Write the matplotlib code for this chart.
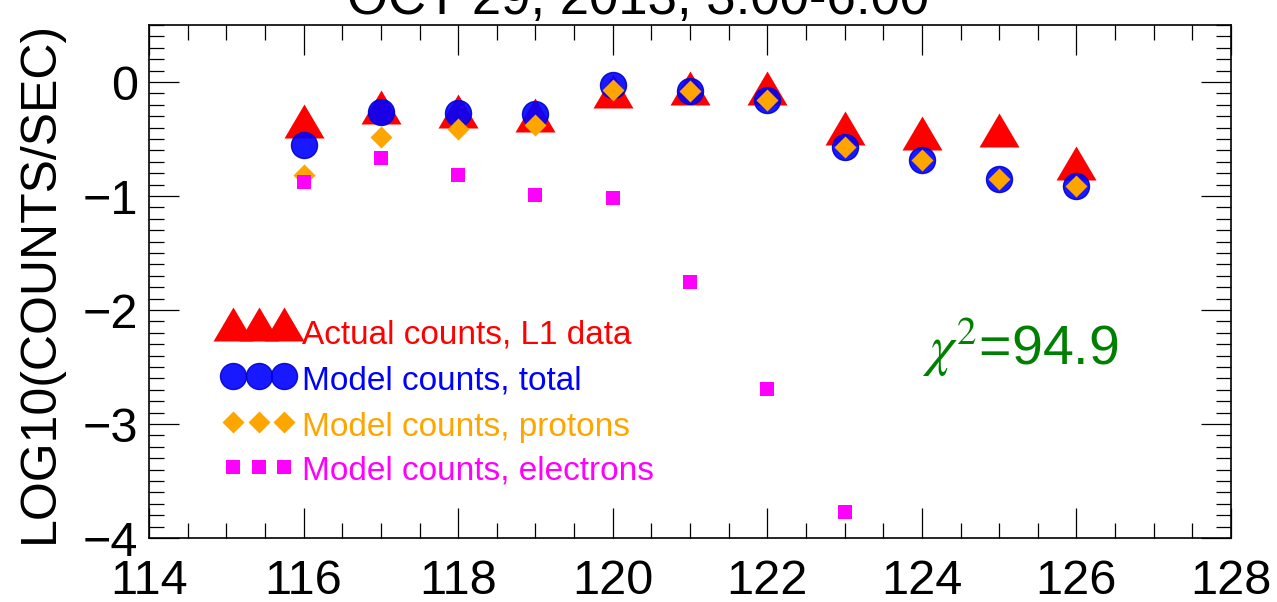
import numpy as np
import matplotlib
matplotlib.use("Agg")
import matplotlib.pyplot as plt
from matplotlib.path import Path
from matplotlib.ticker import MultipleLocator

plt.rcParams['font.family'] = ['Liberation Sans', 'DejaVu Sans']
plt.rcParams['mathtext.fontset'] = 'stix'

# Channel numbers and log10 count rates
channels = [116, 117, 118, 119, 120, 121, 122, 123, 124, 125, 126]
actual_l1 = [-0.34, -0.22, -0.25, -0.29, -0.08, -0.05, -0.05, -0.40, -0.45, -0.42, -0.71]
model_total = [-0.55, -0.26, -0.27, -0.28, -0.03, -0.08, -0.16, -0.57, -0.68, -0.85, -0.91]
model_protons = [-0.82, -0.48, -0.41, -0.38, -0.07, -0.08, -0.16, -0.57, -0.68, -0.85, -0.91]
electron_channels = [116, 117, 118, 119, 120, 121, 122, 123]
model_electrons = [-0.88, -0.67, -0.82, -0.99, -1.02, -1.75, -2.69, -3.77]

title = "OCT 29, 2013, 3:00-6:00"
chi_sq = 94.9
legend_labels = ["Actual counts, L1 data", "Model counts, total",
                 "Model counts, protons", "Model counts, electrons"]

RED, BLUE, ORANGE, MAGENTA, GREEN = "#ff0000", "#0000ff", "#ffa500", "#ff00ff", "#008000"

# Flattened triangle and diamond markers
tri = Path([(-1, -0.85), (1, -0.85), (0, 0.85), (-1, -0.85)],
           [Path.MOVETO, Path.LINETO, Path.LINETO, Path.CLOSEPOLY])
dia = Path([(0, 1), (1, 0), (0, -1), (-1, 0), (0, 1)],
           [Path.MOVETO, Path.LINETO, Path.LINETO, Path.LINETO, Path.CLOSEPOLY])

px = 72 / 100.0  # points per pixel at dpi 100
styles = [
    dict(marker=tri, markersize=40 * px, color=RED, mec=RED, mew=0),
    dict(marker='o', markersize=26 * px, color=BLUE, mec="#0000cc", mew=1.0, alpha=0.9),
    dict(marker=dia, markersize=22 * px, color=ORANGE, mec=ORANGE, mew=0),
    dict(marker='s', markersize=14 * px, color=MAGENTA, mec=MAGENTA, mew=0),
]
colors = [RED, BLUE, ORANGE, MAGENTA]

fig = plt.figure(figsize=(12.77, 6.02), dpi=100)
ax = fig.add_axes([149 / 1277, 1 - 538 / 602, 1082 / 1277, 513 / 602])

series = [(channels, actual_l1), (channels, model_total),
          (channels, model_protons), (electron_channels, model_electrons)]
for (xs, ys), st in zip(series, styles):
    ax.plot(xs, ys, linestyle='none', **st)

ax.set_xlim(114, 128)
ax.set_ylim(-4, 0.5)
ax.xaxis.set_major_locator(MultipleLocator(2))
ax.xaxis.set_minor_locator(MultipleLocator(0.5))
ax.yaxis.set_major_locator(MultipleLocator(1))
ax.yaxis.set_minor_locator(MultipleLocator(0.1))
ax.tick_params(which='both', direction='in', top=True, right=True, width=0.9, color='black')
ax.tick_params(which='major', length=30 * px, labelsize=35)
ax.tick_params(which='minor', length=15 * px)
ax.tick_params(axis='x', which='major', pad=15)
ax.tick_params(axis='y', which='major', pad=8)
ax.set_yticks([0, -1, -2, -3, -4])
ax.set_yticklabels(["0", "\u22121", "\u22122", "\u22123", "\u22124"])
for s in ax.spines.values():
    s.set_linewidth(1.2)

ax.set_ylabel("LOG10(COUNTS/SEC)", fontsize=36)
ax.yaxis.set_label_coords(-0.08, 0.5)

fig.text(0.5, 1 - 14 / 602, title, ha='center', va='baseline', fontsize=38)

# Legend drawn as three overlapping symbols per row followed by coloured text
key_x = [(c - 149) / 1082 for c in (233, 258.5, 284)]
key_y = [(538 - c) / 513 for c in (324, 376, 422, 467)]
text_y = [(538 - c) / 513 for c in (343, 390, 436, 480)]
for st, ky, ty, lab, col in zip(styles, key_y, text_y, legend_labels, colors):
    ax.plot(key_x, [ky] * 3, linestyle='none', transform=ax.transAxes, clip_on=False, **st)
    ax.text((302 - 149) / 1082, ty, lab, color=col, fontsize=24,
            transform=ax.transAxes, ha='left', va='baseline')

ax.text((922 - 149) / 1082, (538 - 365) / 513, r"$\chi^2$" + "=%.1f" % chi_sq,
        color=GREEN, fontsize=40, transform=ax.transAxes, ha='left', va='baseline')

fig.savefig("out.png", dpi=100)
